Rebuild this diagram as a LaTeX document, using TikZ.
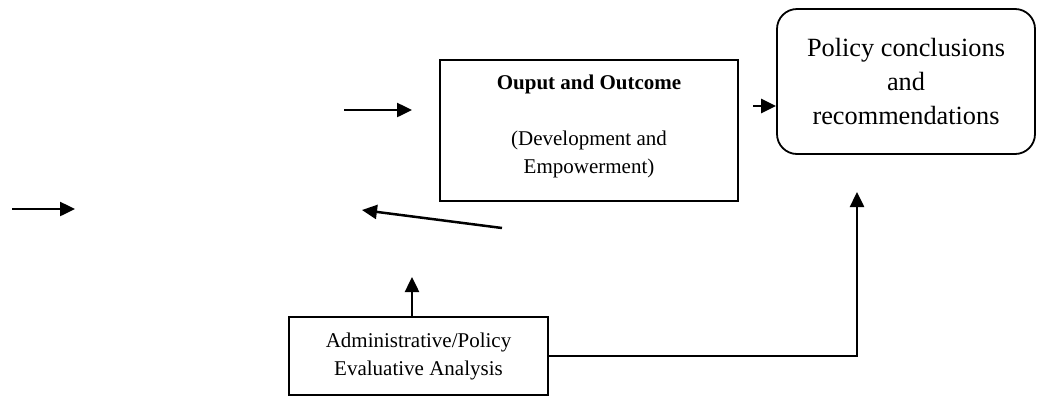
\documentclass[tikz,border=0pt]{standalone}
\usepackage{fontspec}
\setmainfont{Liberation Serif}
\usetikzlibrary{arrows.meta}
\begin{document}
\begin{tikzpicture}[x=1pt,y=-1pt,
  boxstyle/.style={draw, line width=2pt, inner sep=0pt, align=center},
  txt/.style={align=center, inner sep=0pt, font=\fontsize{21}{28}\selectfont},
  arr/.style={line width=2.5pt, -{Triangle[length=15pt,width=14pt]}}]
\useasboundingbox (0,0) rectangle (1041,397);
% boxes
\node[boxstyle, minimum width=298pt, minimum height=141pt] (out) at (589,130.5) {};
\node[txt] (outtxt) at (589,126) {\textbf{Ouput and Outcome}\\[28pt](Development and\\Empowerment)};
\node[boxstyle, line width=1.8pt, rounded corners=20pt, minimum width=258pt, minimum height=145pt,
  font=\fontsize{26.3}{34}\selectfont] (pol) at (906,81.5) {Policy conclusions\\and\\recommendations};
\node[boxstyle, minimum width=259pt, minimum height=78pt, font=\fontsize{21}{28}\selectfont] (adm) at (418.5,356) {Administrative/Policy\\Evaluative Analysis};
% free ends
\coordinate (a1s) at (12,209);
\coordinate (a1e) at (75,209);
\coordinate (a2s) at (344,110);
\coordinate (a2e) at (412,110);
\coordinate (a3s) at (753,106);
\coordinate (a4s) at (502,228);
\coordinate (a4e) at (362,210);
\coordinate (a5e) at (412,277);
\coordinate (a6e) at (857,192);
% connectors
\draw[arr] (a1s) -- (a1e);
\draw[arr] (a2s) -- (a2e);
\draw[arr] (a3s) -- (pol.west |- a3s);
\draw[arr] (a4s) -- (a4e);
\draw[arr] (adm.north -| a5e) -- (a5e);
\draw[arr] (adm.east) -| (a6e);
\end{tikzpicture}
\end{document}
